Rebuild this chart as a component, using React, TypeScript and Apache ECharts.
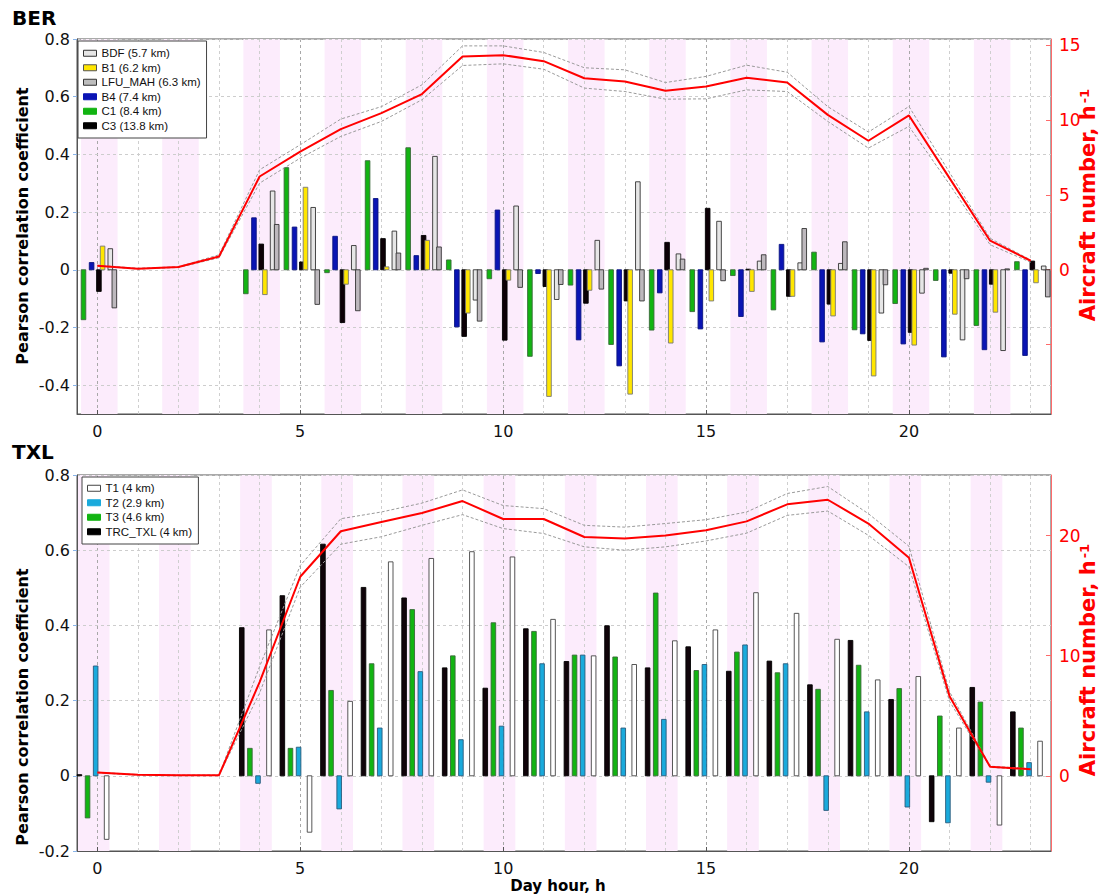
import React, { useEffect, useRef } from "react";
import * as echarts from "echarts";

// ---------------- data ----------------
const HOURS = [0, 1, 2, 3, 4, 5, 6, 7, 8, 9, 10, 11, 12, 13, 14, 15, 16, 17, 18, 19, 20, 21, 22, 23];
const X_LABELS = [0, 5, 10, 15, 20];

// BER correlation coefficients per hour (null = no value)
const BER_BDF = [0.073, null, null, null, 0.273, 0.216, 0.084, 0.134, 0.393, -0.105, 0.221, -0.103, 0.102, 0.305, 0.055, 0.168, 0.03, 0.024, 0.022, -0.15, -0.081, -0.243, -0.28, 0.013];
const BER_B1 = [0.082, null, null, null, -0.086, 0.286, -0.05, 0.01, 0.102, -0.15, -0.036, -0.439, -0.071, -0.431, -0.254, -0.108, -0.075, -0.092, -0.16, -0.368, -0.261, -0.154, -0.147, -0.045];
const BER_LFU = [-0.132, null, null, null, 0.157, -0.12, -0.142, 0.058, 0.079, -0.178, -0.061, -0.051, -0.067, -0.108, 0.037, -0.038, 0.052, 0.143, 0.097, -0.052, 0.005, -0.031, 0.003, -0.094];
const BER_B4 = [0.025, null, null, null, 0.18, 0.148, 0.116, 0.247, 0.049, -0.198, 0.207, -0.013, -0.243, -0.333, -0.08, -0.205, -0.162, 0.088, -0.25, -0.222, -0.257, -0.302, -0.277, -0.297];
const BER_C1 = [-0.173, null, null, null, -0.083, 0.354, -0.01, 0.378, 0.423, 0.034, -0.031, -0.3, -0.053, -0.259, -0.209, -0.145, -0.02, -0.139, 0.061, -0.208, -0.117, -0.037, -0.193, 0.028];
const BER_C3 = [-0.075, null, null, null, 0.089, 0.027, -0.183, 0.108, 0.119, -0.231, -0.244, -0.058, -0.116, -0.108, 0.095, 0.213, 0.002, -0.092, -0.119, -0.245, -0.217, -0.012, -0.05, 0.03];

// BER aircraft number per hour
const BER_AIR = [0.27, 0.07, 0.18, 0.89, 6.23, 7.9, 9.4, 10.47, 11.74, 14.25, 14.34, 13.94, 12.8, 12.58, 11.96, 12.25, 12.83, 12.51, 10.35, 8.62, 10.31, 6.12, 1.94, 0.6];
const BER_AIR_HI = [0.3, 0.1, 0.2, 1.0, 6.68, 8.35, 10.07, 10.9, 12.36, 14.96, 14.96, 14.52, 13.5, 13.36, 12.51, 12.92, 13.67, 13.2, 10.9, 9.2, 10.91, 6.5, 2.1, 0.65];
const BER_AIR_LO = [0.25, 0.05, 0.15, 0.8, 5.79, 7.46, 8.91, 9.91, 11.36, 13.65, 13.76, 13.4, 12.14, 11.91, 11.4, 11.42, 12.02, 11.91, 9.91, 8.13, 9.58, 5.7, 1.67, 0.5];

// TXL correlation coefficients per hour
const TXL_T1 = [-0.169, null, null, null, 0.388, -0.15, 0.198, 0.569, 0.578, 0.596, 0.582, 0.416, 0.319, 0.296, 0.359, 0.388, 0.487, 0.432, 0.363, 0.255, 0.264, 0.127, -0.131, 0.092];
const TXL_T2 = [0.292, null, null, null, -0.02, 0.076, -0.088, 0.127, 0.277, 0.096, 0.132, 0.298, 0.321, 0.127, 0.15, 0.296, 0.348, 0.298, -0.092, 0.17, -0.083, -0.125, -0.017, 0.035];
const TXL_T3 = [-0.112, null, null, null, 0.073, 0.073, 0.227, 0.298, 0.442, 0.319, 0.407, 0.384, 0.321, 0.316, 0.486, 0.28, 0.329, 0.274, 0.23, 0.294, 0.232, 0.159, 0.196, 0.127];
const TXL_TRC = [0.003, null, null, null, 0.394, 0.479, 0.616, 0.501, 0.473, 0.287, 0.233, 0.391, 0.304, 0.399, 0.287, 0.343, 0.278, 0.305, 0.242, 0.36, 0.203, -0.122, 0.235, 0.17];

// TXL aircraft number per hour
const TXL_AIR = [0.28, 0.08, 0.05, 0.05, 7.8, 16.57, 20.36, 21.13, 21.87, 22.87, 21.38, 21.38, 19.88, 19.75, 20.0, 20.44, 21.18, 22.6, 22.98, 21.0, 18.15, 6.63, 0.75, 0.55];
const TXL_AIR_HI = [0.3, 0.1, 0.05, 0.05, 9.1, 17.5, 21.4, 21.96, 22.7, 23.8, 22.5, 22.24, 20.85, 20.7, 21.0, 21.32, 21.96, 23.5, 24.08, 21.82, 19.11, 7.0, 0.8, 0.6];
const TXL_AIR_LO = [0.25, 0.05, 0.05, 0.05, 6.9, 15.7, 19.28, 19.9, 20.85, 21.74, 20.58, 20.17, 19.06, 18.78, 19.06, 19.55, 20.2, 21.68, 22.04, 20.02, 17.4, 6.2, 0.7, 0.5];

const BAND_HOURS = [0, 2, 4, 6, 8, 10, 12, 14, 16, 18, 20, 22];

// ---------------- helpers ----------------
const FONT = "DejaVu Sans";

function bars(name: string, values: (number | null)[], offset: number, fill: string, stroke: string, gi: number) {
  const data: number[][] = [];
  HOURS.forEach((h, i) => {
    const v = values[i];
    if (v !== null && v !== undefined) data.push([h + offset, v]);
  });
  return {
    type: "custom",
    name,
    xAxisIndex: gi,
    yAxisIndex: gi * 2,
    z: 3,
    itemStyle: { color: fill, borderColor: stroke, borderWidth: 1 },
    encode: { x: 0, y: 1 },
    data,
    renderItem: (_p: any, api: any) => {
      const x = api.value(0);
      const y = api.value(1);
      const a = api.coord([x, 0]);
      const b = api.coord([x, y]);
      const w = 4.6;
      return {
        type: "rect",
        shape: { x: a[0] - w / 2, y: Math.min(a[1], b[1]), width: w, height: Math.max(Math.abs(a[1] - b[1]), 0.8) },
        style: { fill, stroke, lineWidth: 0.9 },
      };
    },
  };
}

function line(values: number[], gi: number, color: string, width: number, dashed: boolean, z: number) {
  return {
    type: "line",
    xAxisIndex: gi,
    yAxisIndex: gi * 2 + 1,
    data: HOURS.map((h, i) => [h, values[i]]),
    showSymbol: false,
    symbol: "none",
    silent: true,
    z,
    lineStyle: { color, width, type: dashed ? [3, 2] : "solid" },
  };
}

function backdrop(gi: number, bandStart: number, bandEnd: number) {
  return {
    type: "line",
    xAxisIndex: gi,
    yAxisIndex: gi * 2,
    data: [[0, 0]],
    showSymbol: false,
    symbol: "none",
    lineStyle: { opacity: 0 },
    silent: true,
    z: 0,
    markArea: {
      silent: true,
      z: 0,
      itemStyle: { color: "#fcecfc" },
      data: BAND_HOURS.map((h) => [{ xAxis: h + bandStart }, { xAxis: h + bandEnd }]),
    },
    markLine: {
      silent: true,
      z: 1,
      symbol: ["none", "none"],
      label: { show: false },
      data: HOURS.map((h) => ({
        xAxis: h,
        lineStyle: { color: h % 5 === 0 ? "#a8a8a8" : "#cfcfcf", type: [3, 3], width: 1 },
      })),
    },
  };
}

function leftLabel(v: number) {
  const n = Math.round(v * 10);
  if (n % 2 !== 0) return "";
  return n === 0 ? "0" : (n / 10).toFixed(1);
}

function xAxis(gi: number) {
  return {
    type: "value",
    gridIndex: gi,
    min: -0.5,
    max: 23.5,
    z: 2,
    axisLine: { show: true, onZero: false, lineStyle: { color: "#555" } },
    splitLine: { show: false },
    axisTick: { show: true, inside: true, length: 4, customValues: X_LABELS, lineStyle: { color: "#555" } },
    axisLabel: { customValues: X_LABELS, fontSize: 16, color: "#111", margin: 9, fontFamily: FONT },
  };
}

function leftAxis(gi: number, min: number, ticks: number[]) {
  return {
    type: "value",
    gridIndex: gi,
    min,
    max: 0.8,
    interval: 0.1,
    z: 2,
    axisLine: { show: true, onZero: false, lineStyle: { color: "#555" } },
    axisTick: { show: true, inside: false, length: 4, customValues: ticks, lineStyle: { color: "#8ab4e8" } },
    splitLine: { show: true, lineStyle: { color: "#cdcdcd", type: [3, 3], width: 1 } },
    axisLabel: { formatter: leftLabel, fontSize: 16, color: "#111", margin: 7, fontFamily: FONT },
  };
}

function rightAxis(gi: number, min: number, max: number, labels: number[], ticks: number[]) {
  return {
    type: "value",
    gridIndex: gi,
    position: "right",
    min,
    max,
    z: 2,
    axisLine: { show: true, onZero: false, lineStyle: { color: "#ff6a6a" } },
    axisTick: { show: true, inside: true, length: 5, customValues: ticks, lineStyle: { color: "#ff6a6a" } },
    splitLine: { show: false },
    axisLabel: { customValues: labels, color: "#ff0000", fontSize: 17, margin: 8, fontFamily: FONT },
  };
}

function vText(text: string, x: number, y: number, size: number, color: string, rich?: any) {
  return {
    type: "text",
    x,
    y,
    rotation: Math.PI / 2,
    z: 10,
    style: {
      text,
      fill: color,
      font: `bold ${size}px "${FONT}"`,
      align: "center",
      verticalAlign: "middle",
      rich,
    },
  };
}

const supRich = {
  sup: { fontSize: 13, fontWeight: "bold", fill: "#ff0000", verticalAlign: "top", fontFamily: FONT, padding: [0, 0, 8, 2] },
};

export default function App() {
  const ref = useRef<HTMLDivElement>(null);

  useEffect(() => {
    if (!ref.current) return;
    const chart = echarts.init(ref.current, undefined, { renderer: "svg" });

    const berLegend = [
      { name: "BDF (5.7 km)", itemStyle: { color: "#e6e6e6", borderColor: "#333", borderWidth: 1 } },
      { name: "B1 (6.2 km)", itemStyle: { color: "#ffe600", borderColor: "#555", borderWidth: 1 } },
      { name: "LFU_MAH (6.3 km)", itemStyle: { color: "#bdbdbd", borderColor: "#333", borderWidth: 1 } },
      { name: "B4 (7.4 km)", itemStyle: { color: "#0a14b4", borderColor: "#0a14b4", borderWidth: 1 } },
      { name: "C1 (8.4 km)", itemStyle: { color: "#12b412", borderColor: "#12b412", borderWidth: 1 } },
      { name: "C3 (13.8 km)", itemStyle: { color: "#000", borderColor: "#000", borderWidth: 1 } },
    ];
    const txlLegend = [
      { name: "T1 (4 km)", itemStyle: { color: "#ffffff", borderColor: "#444", borderWidth: 1 } },
      { name: "T2 (2.9 km)", itemStyle: { color: "#1aaadc", borderColor: "#1aaadc", borderWidth: 1 } },
      { name: "T3 (4.6 km)", itemStyle: { color: "#12b412", borderColor: "#12b412", borderWidth: 1 } },
      { name: "TRC_TXL (4 km)", itemStyle: { color: "#000", borderColor: "#000", borderWidth: 1 } },
    ];
    const legendBase = {
      orient: "vertical",
      icon: "rect",
      itemWidth: 13,
      itemHeight: 6,
      itemGap: 2,
      backgroundColor: "#fff",
      borderColor: "#444",
      borderWidth: 1,
      borderRadius: 0,
      selectedMode: false,
      z: 12,
      textStyle: { fontFamily: "Liberation Sans", fontSize: 11.5, color: "#111", lineHeight: 12.5 },
    };

    chart.setOption({
      animation: false,
      backgroundColor: "#fff",
      textStyle: { fontFamily: FONT },
      grid: [
        { left: 77, top: 39, width: 974, height: 375, show: true, borderColor: "#555", borderWidth: 1, backgroundColor: "transparent" },
        { left: 77, top: 475, width: 974, height: 376, show: true, borderColor: "#555", borderWidth: 1, backgroundColor: "transparent" },
      ],
      legend: [
        { ...legendBase, data: berLegend, left: 78, top: 41, padding: [6, 6, 6, 5] },
        { ...legendBase, data: txlLegend, left: 82, top: 477, padding: [5, 6, 6, 5] },
      ],
      xAxis: [xAxis(0), xAxis(1)],
      yAxis: [
        leftAxis(0, -0.5, [-0.4, -0.2, 0, 0.2, 0.4, 0.6, 0.8]),
        rightAxis(0, -9.64, 15.42, [0, 5, 10, 15], [-5, 0, 5, 10, 15]),
        leftAxis(1, -0.2, [-0.2, 0, 0.2, 0.4, 0.6, 0.8]),
        rightAxis(1, -6.26, 25.04, [0, 10, 20], [0, 10, 20]),
      ],
      series: [
        backdrop(0, -0.4, 0.5),
        backdrop(1, -0.48, 0.3),
        bars("C1 (8.4 km)", BER_C1, -0.34, "#12b412", "#3a6a3a", 0),
        bars("B4 (7.4 km)", BER_B4, -0.14, "#0a14b4", "#0a1480", 0),
        bars("C3 (13.8 km)", BER_C3, 0.04, "#0c0006", "#000", 0),
        bars("B1 (6.2 km)", BER_B1, 0.13, "#ffe600", "#777", 0),
        bars("BDF (5.7 km)", BER_BDF, 0.32, "#e6e6e6", "#333", 0),
        bars("LFU_MAH (6.3 km)", BER_LFU, 0.42, "#bdb8bd", "#333", 0),
        line(BER_AIR_HI, 0, "#9a9a9a", 1, true, 4),
        line(BER_AIR_LO, 0, "#9a9a9a", 1, true, 4),
        line(BER_AIR, 0, "#ff0000", 2, false, 5),
        bars("TRC_TXL (4 km)", TXL_TRC, -0.44, "#10040a", "#000", 1),
        bars("T3 (4.6 km)", TXL_T3, -0.24, "#12b412", "#3a6a3a", 1),
        bars("T2 (2.9 km)", TXL_T2, -0.04, "#1aaadc", "#2a5a7a", 1),
        bars("T1 (4 km)", TXL_T1, 0.23, "#ffffff", "#444", 1),
        line(TXL_AIR_HI, 1, "#9a9a9a", 1, true, 4),
        line(TXL_AIR_LO, 1, "#9a9a9a", 1, true, 4),
        line(TXL_AIR, 1, "#ff0000", 2, false, 5),
      ],
      graphic: [
        { type: "text", left: 12, top: 8, z: 10, style: { text: "BER", font: `bold 20px "${FONT}"`, fill: "#000" } },
        { type: "text", left: 12, top: 442, z: 10, style: { text: "TXL", font: `bold 20px "${FONT}"`, fill: "#000" } },
        vText("Pearson correlation coefficient", 22, 226, 16, "#000"),
        vText("Pearson correlation coefficient", 22, 707, 16, "#000"),
        vText("Aircraft number, h{sup|-1}", 1088, 205, 21, "#ff0000", supRich),
        vText("Aircraft number, h{sup|-1}", 1088, 660, 21, "#ff0000", supRich),
        {
          type: "text",
          x: 558,
          y: 886,
          z: 10,
          style: { text: "Day hour, h", font: `bold 15px "${FONT}"`, fill: "#000", align: "center", verticalAlign: "middle" },
        },
      ],
    });

    return () => chart.dispose();
  }, []);

  return <div ref={ref} style={{ position: "absolute", left: 0, top: 0, width: 1104, height: 896 }} />;
}
